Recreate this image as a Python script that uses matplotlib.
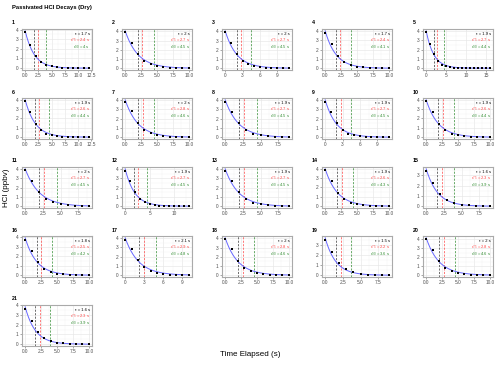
import numpy as np
import matplotlib.pyplot as plt
from matplotlib.ticker import MultipleLocator, AutoMinorLocator

plt.rcParams['font.family'] = ['Liberation Sans', 'DejaVu Sans']
plt.rcParams['mathtext.fontset'] = 'custom'
plt.rcParams['mathtext.rm'] = 'Liberation Sans'
plt.rcParams['mathtext.it'] = 'Liberation Sans:italic'

# fitted time constants (s) per run
tau = [1.7, 2, 2, 1.7, 1.9, 1.9, 2, 1.9, 1.9, 1.9,
       2, 1.9, 1.9, 1.9, 1.6, 1.8, 2.1, 2, 1.5, 2, 1.6]
tau75 = [2.4, 2.7, 2.7, 2.4, 2.7, 2.6, 2.8, 2.7, 2.7, 2.6,
         2.7, 2.7, 2.7, 2.6, 2.3, 2.5, 2.9, 2.8, 2.2, 2.8, 2.3]
tau90 = [4, 4.5, 4.5, 4.1, 4.4, 4.4, 4.6, 4.5, 4.5, 4.4,
         4.5, 4.5, 4.5, 4.3, 3.9, 4.2, 4.8, 4.6, 3.6, 4.6, 3.9]

# measured HCl (ppbv), sampled every second
dt = 1.0
hcl = [
    [3.7, 2.4, 1.3, 0.65, 0.35, 0.17, 0.09, 0.05, 0.03, 0.02, 0.01, 0.01, 0.0],
    [3.9, 2.75, 1.55, 0.8, 0.42, 0.22, 0.12, 0.06, 0.03, 0.02, 0.01],
    [3.9, 2.75, 1.55, 0.8, 0.42, 0.22, 0.12, 0.06, 0.03, 0.02, 0.01, 0.01],
    [3.75, 2.6, 1.35, 0.7, 0.35, 0.17, 0.09, 0.05, 0.03, 0.02, 0.01],
    [3.85, 2.65, 1.5, 0.75, 0.38, 0.2, 0.1, 0.06, 0.03, 0.02, 0.01, 0.01, 0.0, 0.0, 0.0, 0.0, 0.0],
    [3.8, 2.65, 1.45, 0.75, 0.38, 0.2, 0.1, 0.06, 0.03, 0.02, 0.01, 0.01, 0.0],
    [3.85, 2.8, 1.55, 0.8, 0.42, 0.22, 0.12, 0.06, 0.03, 0.02, 0.01],
    [3.85, 2.7, 1.5, 0.78, 0.4, 0.2, 0.11, 0.06, 0.03, 0.02],
    [3.85, 2.7, 1.5, 0.78, 0.4, 0.2, 0.11, 0.06, 0.03, 0.02, 0.01, 0.01],
    [3.8, 2.65, 1.45, 0.75, 0.38, 0.2, 0.1, 0.06, 0.03, 0.02, 0.01],
    [3.85, 2.7, 1.55, 0.8, 0.42, 0.22, 0.12, 0.06, 0.03, 0.02],
    [3.85, 2.7, 1.5, 0.78, 0.4, 0.2, 0.11, 0.06, 0.03, 0.02, 0.01, 0.01, 0.0, 0.0],
    [3.85, 2.7, 1.5, 0.78, 0.4, 0.2, 0.11, 0.06, 0.03, 0.02],
    [3.8, 2.65, 1.45, 0.75, 0.38, 0.2, 0.1, 0.05, 0.03, 0.02, 0.01],
    [3.4, 2.25, 1.2, 0.6, 0.3, 0.15, 0.08, 0.04, 0.02, 0.01],
    [3.75, 2.55, 1.4, 0.7, 0.35, 0.18, 0.09, 0.05, 0.03, 0.02, 0.01],
    [3.8, 2.85, 1.65, 0.85, 0.45, 0.25, 0.13, 0.07, 0.04, 0.02, 0.01],
    [3.9, 2.8, 1.55, 0.8, 0.42, 0.22, 0.12, 0.06, 0.03, 0.02, 0.01],
    [3.5, 2.3, 1.2, 0.58, 0.28, 0.13, 0.07, 0.03, 0.02, 0.01],
    [4.0, 2.85, 1.6, 0.82, 0.43, 0.22, 0.12, 0.06, 0.03, 0.02, 0.01],
    [3.6, 2.35, 1.25, 0.62, 0.3, 0.15, 0.08, 0.04, 0.02, 0.01, 0.01],
]

xtick_sets = {
    'a': [0, 2.5, 5, 7.5, 10, 12.5],
    'b': [0, 3, 6, 9],
    'c': [0, 5, 10, 15],
    'd': [0, 5, 10],
}
xtick_labels = {
    'a': ['0.0', '2.5', '5.0', '7.5', '10.0', '12.5'],
    'b': ['0', '3', '6', '9'],
    'c': ['0', '5', '10', '15'],
    'd': ['0', '5', '10'],
}
panel_ticks = ['a', 'a', 'b', 'a', 'c', 'a', 'a', 'a', 'b', 'a',
               'a', 'd', 'a', 'a', 'a', 'a', 'b', 'a', 'a', 'a', 'a']

W, H = 500, 367
fig = plt.figure(figsize=(W / 100, H / 100), dpi=100)

col_left = [22, 122, 222, 322, 423]
row_top = [29, 98, 167, 236, 305]
box_w, box_h = 70, 41

c_tau, c_75, c_90 = '#333333', '#FF4444', '#2E8B2E'

for i in range(len(hcl)):
    r, c = divmod(i, 5)
    x0, y0 = col_left[c], row_top[r]
    ax = fig.add_axes([x0 / W, 1 - (y0 + box_h) / H, box_w / W, box_h / H])
    y = np.array(hcl[i])
    t = np.arange(len(y)) * dt

    # amplitude of the exponential fit for the given tau
    e = np.exp(-t / tau[i])
    amp = np.sum(y * e) / np.sum(e * e)
    tt = np.linspace(0, t[-1], 200)
    ax.plot(tt, amp * np.exp(-tt / tau[i]), color='#6666FF', lw=0.7, zorder=2)
    ax.scatter(t, y, s=1.8, color='black', marker='s', zorder=3, linewidths=0)

    ax.axvline(tau[i], color=c_tau, ls=(0, (3, 2)), lw=0.5, zorder=1)
    ax.axvline(tau75[i], color=c_75, ls=(0, (3, 2)), lw=0.5, zorder=1)
    ax.axvline(tau90[i], color=c_90, ls=(0, (3, 2)), lw=0.5, zorder=1)

    ax.text(0.97, 0.88, f'τ = {tau[i]:g} s', transform=ax.transAxes,
            ha='right', va='center', fontsize=3.0, color='black')
    ax.text(0.97, 0.72, rf'$\tau_{{75}}$ = {tau75[i]:g} s', transform=ax.transAxes,
            ha='right', va='center', fontsize=3.0, color=c_75)
    ax.text(0.97, 0.56, rf'$\tau_{{90}}$ = {tau90[i]:g} s', transform=ax.transAxes,
            ha='right', va='center', fontsize=3.0, color=c_90)

    key = panel_ticks[i]
    ax.set_xticks(xtick_sets[key])
    ax.set_xticklabels(xtick_labels[key])
    ax.yaxis.set_major_locator(MultipleLocator(1))
    ax.xaxis.set_minor_locator(AutoMinorLocator(2))
    ax.yaxis.set_minor_locator(AutoMinorLocator(2))
    ax.margins(x=0.05, y=0.05)

    ax.grid(which='major', color='#E6E6E6', lw=0.45)
    ax.grid(which='minor', color='#F2F2F2', lw=0.3)
    ax.set_axisbelow(True)
    ax.tick_params(which='major', labelsize=3.4, length=1.5, width=0.4,
                   color='#666666', pad=1, labelcolor='#4D4D4D')
    ax.tick_params(which='minor', length=0)
    for s in ax.spines.values():
        s.set_color('#AAAAAA')
        s.set_linewidth(0.8)

    fig.text((x0 - 10) / W, 1 - (y0 - 6) / H, str(i + 1), fontsize=3.8,
             fontweight='bold', ha='left', va='center')

fig.text(12 / W, 1 - 7 / H, 'Passivated HCl Decays (Dry)', fontsize=4.2,
         fontweight='bold', ha='left', va='center')
fig.text(250 / W, 1 - 355 / H, 'Time Elapsed (s)', fontsize=5.8,
         ha='center', va='center')
fig.text(7 / W, 1 - 188 / H, 'HCl (ppbv)', fontsize=5.8, rotation=90,
         ha='center', va='center')

fig.savefig('out.png', dpi=100)
